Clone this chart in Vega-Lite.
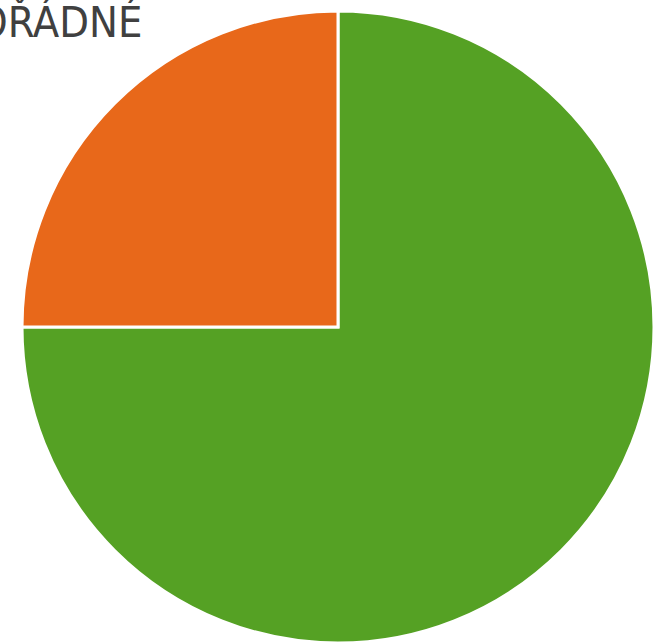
{
  "$schema": "https://vega.github.io/schema/vega-lite/v6.json",
  "autosize": "none",
  "width": 653,
  "height": 644,
  "padding": {"left": 11.5, "top": 5, "right": 0, "bottom": 0},
  "background": "white",
  "title": {
    "text": "MIMOŘÁDNÉ",
    "anchor": "start",
    "align": "right",
    "orient": "top",
    "baseline": "top",
    "dx": 131,
    "dy": 41,
    "offset": 0,
    "font": "DejaVu Sans Condensed",
    "fontSize": 43,
    "fontWeight": "normal",
    "color": "#404040"
  },
  "data": {
    "values": [
      {"kategorie": "řádné", "podil": 75, "poradi": 1},
      {"kategorie": "mimořádné", "podil": 25, "poradi": 2}
    ]
  },
  "mark": {"type": "arc", "radius": 316, "stroke": "white", "strokeWidth": 3},
  "encoding": {
    "theta": {"field": "podil", "type": "quantitative", "stack": true},
    "order": {"field": "poradi", "type": "quantitative"},
    "color": {
      "field": "kategorie",
      "type": "nominal",
      "scale": {"domain": ["řádné", "mimořádné"], "range": ["#55A124", "#E8681A"]},
      "legend": null
    }
  },
  "view": {"stroke": null}
}
